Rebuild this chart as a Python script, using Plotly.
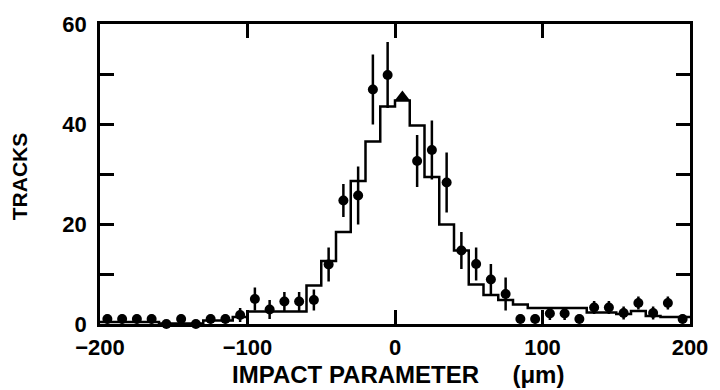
import plotly.graph_objects as go

# ---- data ----
bin_centers = [-195, -185, -175, -165, -155, -145, -135, -125, -115, -105,
               -95, -85, -75, -65, -55, -45, -35, -25, -15, -5,
               5, 15, 25, 35, 45, 55, 65, 75, 85, 95,
               105, 115, 125, 135, 145, 155, 165, 175, 185, 195]
tracks = [1, 1, 1, 1, 0, 1, 0, 1, 1, 1.8,
          5.0, 2.9, 4.5, 4.5, 4.8, 11.9, 24.7, 25.7, 46.9, 49.8,
          45.4, 32.6, 34.8, 28.3, 14.7, 12.0, 8.9, 6.0, 1.0, 1.0,
          2.1, 2.1, 1.0, 3.3, 3.3, 2.2, 4.2, 2.2, 4.2, 1.0]
errors = [0.9, 0.9, 0.9, 0.9, 0, 0.9, 0, 0.9, 0.9, 1.4,
          2.3, 1.9, 1.9, 1.9, 2.1, 3.4, 3.3, 5.8, 7.0, 6.6,
          0, 5.2, 5.9, 6.0, 3.7, 3.3, 3.1, 3.3, 0.9, 0.9,
          1.3, 1.3, 0.9, 1.3, 1.3, 1.3, 1.3, 1.3, 1.3, 0.9]
symbols = ["circle"] * 20 + ["triangle-up"] + ["circle"] * 19
sizes = [10] * 20 + [13] + [10] * 19

hist_edges = [-200, -190, -180, -170, -160, -150, -140, -130, -120, -110,
              -100, -90, -80, -70, -60, -50, -40, -30, -20, -10,
              0, 10, 20, 30, 40, 50, 60, 70, 80, 90,
              100, 110, 120, 130, 140, 150, 160, 170, 180, 190, 200]
hist_values = [0.4, 0.4, 0.4, 0.4, 0.1, 0.1, 0.1, 0.7, 0.7, 1.4,
               2.5, 2.5, 2.5, 2.5, 7.7, 12.6, 18.4, 28.6, 36.5, 43.5,
               44.7, 39.7, 29.4, 19.9, 14.7, 7.9, 5.8, 4.8, 3.9, 3.2,
               3.2, 3.2, 3.2, 2.3, 2.3, 2.0, 2.6, 1.6, 1.4, 1.4]

x_ticks = [-200, -100, 0, 100, 200]
y_ticks = [0, 10, 20, 30, 40, 50, 60]
y_ticktext = ["0", "", "20", "", "40", "", "60"]

FONT = "Liberation Sans"

fig = go.Figure()

# histogram (expected distribution) as a step line
fig.add_trace(go.Scatter(
    x=hist_edges,
    y=hist_values + [hist_values[-1]],
    mode="lines",
    line=dict(shape="hv", color="black", width=2.5),
    showlegend=False,
    hoverinfo="skip",
))

# data points with error bars
fig.add_trace(go.Scatter(
    x=bin_centers,
    y=tracks,
    mode="markers",
    marker=dict(color="black", size=sizes, symbol=symbols, opacity=1,
                line=dict(width=0)),
    error_y=dict(type="data", array=errors, visible=True,
                 color="black", thickness=2.5, width=0),
    cliponaxis=False,
    showlegend=False,
))

axis_common = dict(
    showline=True, linecolor="black", linewidth=2.5, mirror="allticks",
    ticks="inside", tickcolor="black", tickwidth=2.5, ticklen=14,
    showgrid=False, zeroline=False,
    tickfont=dict(family=FONT, size=22, color="black", weight="bold"),
)

fig.update_xaxes(range=[-200, 200], tickvals=x_ticks,
                 ticklabelstandoff=2, **axis_common)
fig.update_yaxes(range=[0, 60], tickvals=y_ticks, ticktext=y_ticktext,
                 ticklabelstandoff=6, **axis_common)

fig.update_layout(
    width=720, height=390,
    margin=dict(l=100, r=30, t=15, b=66),
    paper_bgcolor="white", plot_bgcolor="white",
    annotations=[
        dict(text="IMPACT PARAMETER\u00a0\u00a0\u00a0\u00a0\u00a0(\u03bcm)",
             xref="paper", yref="paper", x=0.505, y=-0.168,
             xanchor="center", yanchor="middle", showarrow=False,
             font=dict(family=FONT, size=24, color="black", weight="bold")),
        dict(text="TRACKS", textangle=-90,
             xref="paper", yref="paper", x=-0.137, y=0.493,
             xanchor="center", yanchor="middle", showarrow=False,
             font=dict(family=FONT, size=21, color="black", weight="bold")),
    ],
)

fig.write_html("out.html")
